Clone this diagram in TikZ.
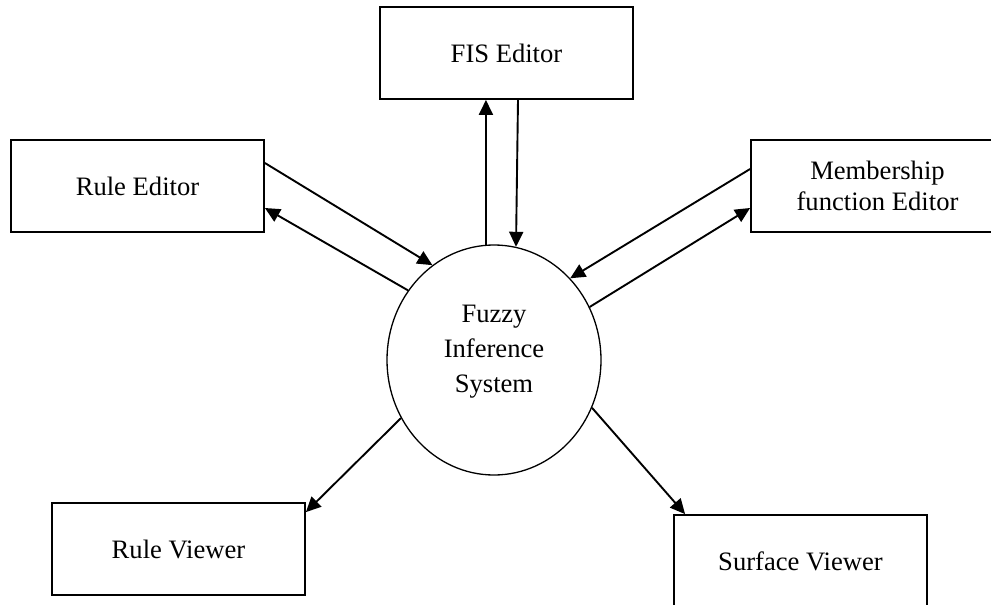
\documentclass[tikz,border=0pt]{standalone}
\usepackage{fontspec}
\setmainfont{Liberation Serif}
\usetikzlibrary{shapes.geometric, arrows.meta}

\begin{document}
\begin{tikzpicture}[x=0.5pt, y=-0.5pt, >={Triangle[length=7.5pt, width=7pt]}, font=\fontsize{13.3}{15.5}\selectfont]

% ------------------- styles -------------------
\tikzstyle{box} = [draw, line width=0.9pt, rectangle, align=center, minimum width=126.5pt, minimum height=46pt, inner sep=0]
\tikzstyle{core} = [draw, line width=0.65pt, ellipse, minimum width=107pt, minimum height=115pt, inner sep=0]
\tikzstyle{flow} = [->, line width=0.95pt]

\useasboundingbox (0,0) rectangle (991,605);
\clip (0,0) rectangle (991,605);

% ------------------- FIS in the middle -------------------
\node[core] (FuzzyIS) at (494,360) {};
\node[align=center, font=\fontsize{13.3}{17.5}\selectfont] (FuzzyTxt) at (494,352) {Fuzzy\\Inference\\System};

% ------------------- editors and viewers -------------------
\node[box] (FISEd) at (506.5,53) {FIS Editor};
\node[box] (RuleEd) at (137.5,186) {Rule Editor};
\node[box] (MFEd) at (877.5,186) {Membership\\function Editor};
\node[box] (RuleView) at (178.5,549) {Rule Viewer};
\node[box] (SurfView) at (800.5,561) {Surface Viewer};

% ------------------- connectors -------------------
\draw[flow] (FuzzyIS.94) -- (FuzzyIS.94 |- FISEd.south);
\draw[flow] ([xshift=5.75pt]FISEd.south) -- (FuzzyIS.79);

\draw[flow] ([yshift=11.5pt]RuleEd.east) -- (FuzzyIS.123);
\draw[flow] (FuzzyIS.141) -- ([yshift=-11pt]RuleEd.east);

\draw[flow] ([yshift=8.5pt]MFEd.west) -- (FuzzyIS.47);
\draw[flow] (FuzzyIS.29) -- ([yshift=-11pt]MFEd.west);

\draw[flow] (FuzzyIS.212) -- ([yshift=-5pt]RuleView.north east);
\draw[flow] (FuzzyIS.334) -- ([xshift=6pt]SurfView.north west);

\end{tikzpicture}
\end{document}
